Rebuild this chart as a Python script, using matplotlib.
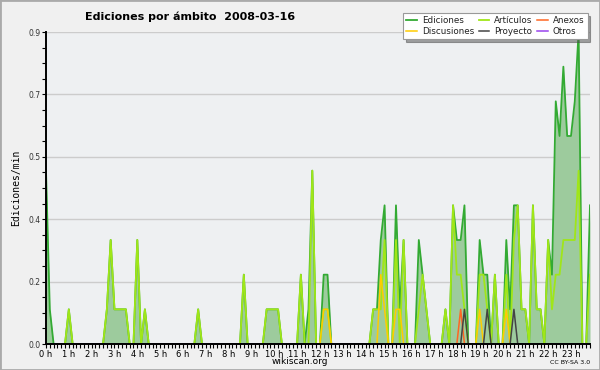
import numpy as np
import matplotlib
matplotlib.use("Agg")
import matplotlib.pyplot as plt
from matplotlib.patches import Rectangle

# one value every 10 minutes, 144 per day (Ediciones/min)
ediciones = [
    0.5, 0.1, 0, 0, 0, 0, 0.1, 0, 0, 0, 0, 0,
    0, 0, 0, 0, 0.1, 0.3, 0.1, 0.1, 0.1, 0.1, 0, 0,
    0.3, 0, 0.1, 0, 0, 0, 0, 0, 0, 0, 0, 0,
    0, 0, 0, 0, 0.1, 0, 0, 0, 0, 0, 0, 0,
    0, 0, 0, 0, 0.2, 0, 0, 0, 0, 0, 0.1, 0.1,
    0.1, 0.1, 0, 0, 0, 0, 0, 0.2, 0, 0.1, 0.5, 0,
    0, 0.2, 0.2, 0, 0, 0, 0, 0, 0, 0, 0, 0,
    0, 0, 0.1, 0.1, 0.3, 0.4, 0, 0, 0.4, 0.1, 0.3, 0,
    0, 0, 0.3, 0.2, 0.1, 0, 0, 0, 0, 0.1, 0, 0.4,
    0.3, 0.3, 0.4, 0, 0, 0, 0.3, 0.2, 0.2, 0, 0.2, 0,
    0, 0.3, 0.1, 0.4, 0.4, 0.1, 0.1, 0, 0.4, 0.1, 0.1, 0,
    0.3, 0.2, 0.7, 0.6, 0.8, 0.6, 0.6, 0.7, 0.9, 0, 0, 0.4,
]
articulos = [
    0, 0, 0, 0, 0, 0, 0.1, 0, 0, 0, 0, 0,
    0, 0, 0, 0, 0.1, 0.3, 0.1, 0.1, 0.1, 0.1, 0, 0,
    0.3, 0, 0.1, 0, 0, 0, 0, 0, 0, 0, 0, 0,
    0, 0, 0, 0, 0.1, 0, 0, 0, 0, 0, 0, 0,
    0, 0, 0, 0, 0.2, 0, 0, 0, 0, 0, 0.1, 0.1,
    0.1, 0.1, 0, 0, 0, 0, 0, 0.2, 0, 0, 0.5, 0,
    0, 0.1, 0.1, 0, 0, 0, 0, 0, 0, 0, 0, 0,
    0, 0, 0.1, 0.1, 0.1, 0.3, 0, 0, 0.3, 0, 0.3, 0,
    0, 0, 0.1, 0.2, 0.1, 0, 0, 0, 0, 0.1, 0, 0.4,
    0.2, 0.2, 0.1, 0, 0, 0, 0.2, 0.2, 0.1, 0, 0.2, 0,
    0, 0.2, 0, 0.3, 0.4, 0.1, 0.1, 0, 0.4, 0.1, 0.1, 0,
    0.3, 0.1, 0.2, 0.2, 0.3, 0.3, 0.3, 0.3, 0.5, 0, 0, 0.2,
]
discusiones = [0] * 144
for i, v in [(73, 0.1), (74, 0.1), (88, 0.2), (89, 0.1), (92, 0.1), (93, 0.1),
             (114, 0.1), (121, 0.1)]:
    discusiones[i] = v
anexos = [0] * 144
anexos[109] = 0.1
proyecto = [0] * 144
for i in (110, 116, 123):
    proyecto[i] = 0.1
otros = [0] * 144

hour_labels = ["%d h" % h for h in range(24)]

fig = plt.figure(figsize=(6, 3.7), dpi=100, facecolor="#f0f0f0")
ax = fig.add_axes([46 / 600, 1 - 344 / 370, 544 / 600, 312 / 370])
ax.set_facecolor("#eef0f2")

x = np.arange(144)
ax.fill_between(x, ediciones, color="#9dcb9d", lw=0, zorder=1)
ax.plot(x, ediciones, color="#33aa33", lw=1.3, label="Ediciones", zorder=2)
ax.plot(x, articulos, color="#a0e618", lw=1.3, label="Artículos", zorder=2.1)
ax.plot(x, anexos, color="#ff6622", lw=1.1, label="Anexos", zorder=2.2)
ax.plot(x, discusiones, color="#ffcc00", lw=1.1, label="Discusiones", zorder=2.2)
ax.plot(x, proyecto, color="#444444", lw=1.1, label="Proyecto", zorder=2.3)
ax.plot(x, otros, color="#9944ee", lw=1.1, label="Otros", zorder=2.3)

ax.set_xlim(0, 143)
ax.set_ylim(0, 0.9)
ax.set_xticks(np.arange(0, 144, 6))
ax.set_xticklabels(hour_labels)
ax.set_xticks(np.arange(0, 144), minor=True)
yt = np.linspace(0, 0.9, 6)
ax.set_yticks(yt)
ax.set_yticklabels(["%.1f" % v for v in yt])
ax.set_yticks(np.linspace(0, 0.9, 21), minor=True)
ax.tick_params(axis="both", which="both", direction="out", length=3, width=0.8,
               labelsize=6, pad=1, colors="black")
ax.tick_params(axis="y", labelsize=5.5, labelcolor="#333333")
ax.grid(axis="y", which="major", color="#cccccc", lw=1)
ax.set_axisbelow(True)
for s in ("top", "right"):
    ax.spines[s].set_visible(False)
for s in ("left", "bottom"):
    ax.spines[s].set_linewidth(1.4)
    ax.spines[s].set_zorder(5)

ax.set_ylabel("Ediciones/min", family="DejaVu Sans Mono", fontsize=7, labelpad=5)

order = ["Ediciones", "Discusiones", "Artículos", "Proyecto", "Anexos", "Otros"]
hd = {l.get_label(): l for l in ax.get_lines()}
leg = fig.legend([hd[k] for k in order], order, ncol=3, fontsize=6.3,
                 loc="upper right", bbox_to_anchor=(592 / 600, 1 - 9 / 370),
                 frameon=True, fancybox=False, shadow=True, handlelength=1.2,
                 handletextpad=0.6, columnspacing=0.5, labelspacing=0.15,
                 borderpad=0.35)
leg.get_frame().set_edgecolor("#999999")
leg.get_frame().set_linewidth(0.8)
for t in leg.get_texts():
    t.set_color("#222222")

fig.text(85 / 600, 1 - 17 / 370, "Ediciones por ámbito  2008-03-16", fontsize=8,
         fontweight="bold", va="center", ha="left")
fig.text(300 / 600, 1 - 362 / 370, "wikiscan.org", fontsize=6.5, ha="center", va="center")
fig.text(590 / 600, 1 - 362 / 370, "CC BY-SA 3.0", fontsize=4.5, ha="right", va="center")
fig.patches.append(Rectangle((0, 0), 1, 1, transform=fig.transFigure, fill=False,
                             edgecolor="#aaaaaa", lw=2))

fig.savefig("out.png", dpi=100, facecolor=fig.get_facecolor())
